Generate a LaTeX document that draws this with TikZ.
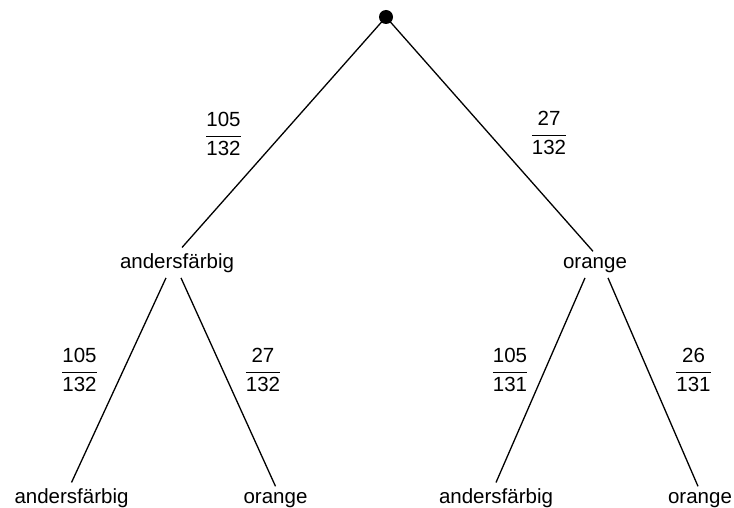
\documentclass[tikz,border=0pt]{standalone}
\usepackage{fontspec}
\setmainfont{Liberation Sans}
\begin{document}
\begin{tikzpicture}[x=1pt,y=-1pt,line width=1.3pt,
  lbl/.style={font=\fontsize{20.5}{24}\selectfont,inner sep=5pt,anchor=base},
  frc/.style={font=\fontsize{20.5}{24}\selectfont,inner sep=0pt}]
\useasboundingbox (0,0) rectangle (734,508);
\node[circle,fill,inner sep=0pt,minimum size=14pt] (root) at (386,17) {};
% level 1
\node[lbl] (L) at (177,268) {andersfärbig};
\node[lbl] (R) at (595,268) {orange};
% level 2
\node[lbl] (LL) at (71.5,503) {andersfärbig};
\node[lbl] (LR) at (275.5,503) {orange};
\node[lbl] (RL) at (496,503) {andersfärbig};
\node[lbl] (RR) at (700,503) {orange};
% connectors
\draw (root.center) -- ([xshift=5pt]L.north);
\draw (root.center) -- ([xshift=-2pt]R.north);
\draw ([xshift=-11pt]L.south) -- (LL.north);
\draw ([xshift=4pt]L.south) -- (LR.north);
\draw ([xshift=-10pt]R.south) -- (RL.north);
\draw ([xshift=13pt]R.south) -- ([xshift=-2pt]RR.north);
% probabilities
\node[frc] (f1) at (223.5,134) {$\displaystyle\frac{\mbox{105}}{\mbox{132}}$};
\node[frc] (f2) at (549,133) {$\displaystyle\frac{\mbox{27}}{\mbox{132}}$};
\node[frc] (f3) at (79.5,370) {$\displaystyle\frac{\mbox{105}}{\mbox{132}}$};
\node[frc] (f4) at (263,370) {$\displaystyle\frac{\mbox{27}}{\mbox{132}}$};
\node[frc] (f5) at (510,370) {$\displaystyle\frac{\mbox{105}}{\mbox{131}}$};
\node[frc] (f6) at (693.5,370) {$\displaystyle\frac{\mbox{26}}{\mbox{131}}$};
\end{tikzpicture}
\end{document}
